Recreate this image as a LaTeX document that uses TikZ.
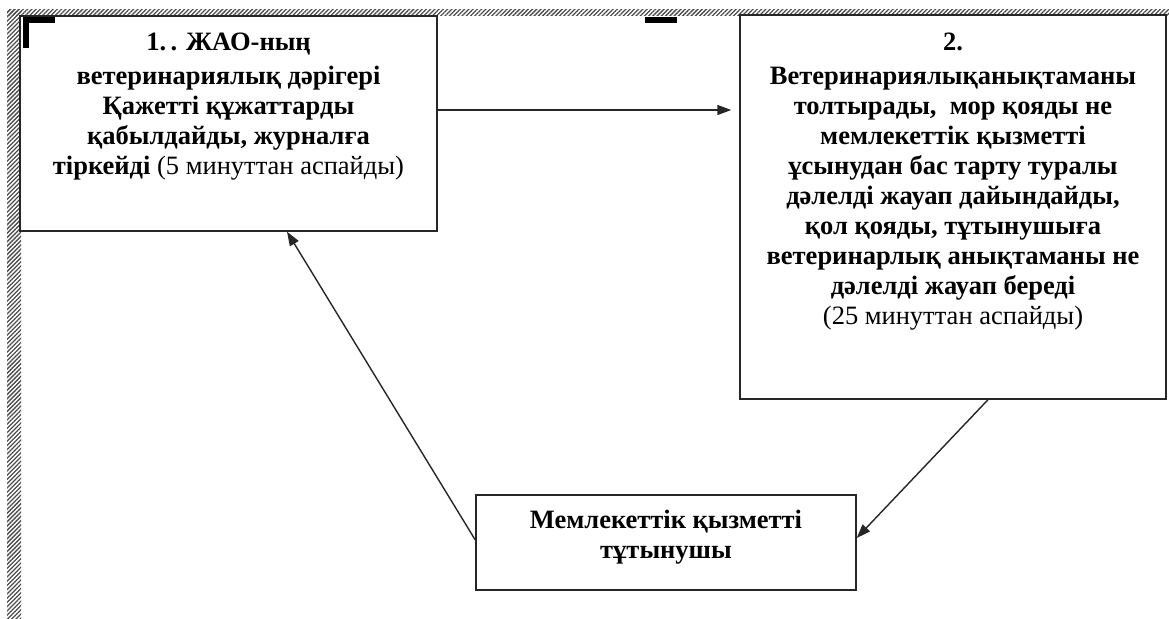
\documentclass[tikz,border=0pt]{standalone}
\usepackage{fontspec}
\setmainfont{Liberation Serif}
\usetikzlibrary{arrows.meta,positioning,patterns.meta}

\begin{document}
\begin{tikzpicture}[
  x=1pt, y=-1pt,
  box/.style={draw=black!85, line width=1.4pt, fill=white, inner sep=0pt},
  boxtext/.style={align=center, inner sep=0pt,
    font=\fontsize{26.5}{30}\selectfont\bfseries},
  arr/.style={-{Triangle[length=14pt,width=10pt]}, draw=black!85, line width=1.4pt},
  hatch/.style={pattern={Lines[angle=45,distance=3pt,line width=1.3pt]},
    pattern color=black!70},
  cornermark/.style={fill=black}
]
\useasboundingbox (0,0) rectangle (1169,618);
\fill[white] (0,0) rectangle (1169,618);
\fill[hatch] (7,10) rectangle (21,618);
\fill[hatch] (7,10) rectangle (1169,16);

\node[box, minimum width=417pt, minimum height=215pt] (vet) at (228.5,123.5) {};
\node[box, minimum width=426pt, minimum height=384pt] (rep) at (953,207) {};
\node[box, minimum width=380pt, minimum height=95pt] (user) at (666,542.5) {};

\node[boxtext, below=17pt of vet.north] (vettext) {1.\,. ЖАО-ның\\[4pt]
  ветеринариялық дәрігері\\ Қажетті құжаттарды\\ қабылдайды, журналға\\
  тіркейді {\mdseries (5 минуттан аспайды)}};
\node[boxtext, below=18pt of rep.north] (reptext) {2.\\[4pt]
  Ветеринариялықанықтаманы\\ толтырады,~~мор қояды не\\ мемлекеттік қызметті\\
  ұсынудан бас тарту туралы\\ дәлелді жауап дайындайды,\\ қол қояды, тұтынушыға\\
  ветеринарлық анықтаманы не\\ дәлелді жауап береді\\
  {\mdseries (25 минуттан аспайды)}};
\node[boxtext] (usertext) at ([yshift=5pt]user.center) {Мемлекеттік қызметті\\ тұтынушы};

\fill[cornermark] (23,17) rectangle (55,23);
\fill[cornermark] (23,17) rectangle (29,48);
\fill[cornermark] (645,17) rectangle (677,23);

\coordinate (vetout) at ([yshift=13.5pt]vet.east);
\draw[arr, shorten >=8pt] (vetout) -- (vetout -| rep.west);
\draw[arr] ([xshift=35pt]rep.south) -- ([yshift=4.5pt]user.east);
\draw[arr] ([yshift=2.5pt]user.west) -- ([xshift=58.5pt]vet.south);
\end{tikzpicture}
\end{document}
